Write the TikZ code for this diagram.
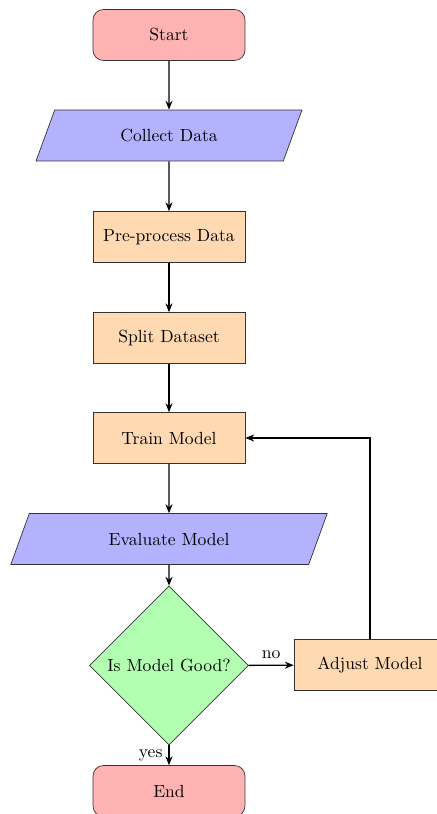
\documentclass[tikz,border=0pt]{standalone}
\usetikzlibrary{shapes.geometric,arrows.meta}
\begin{document}
\begin{tikzpicture}[x=0.02cm,y=-0.02cm,
  startstop/.style={rectangle, rounded corners=6pt, minimum width=3.04cm, minimum height=1.02cm, draw=black!80, fill=red!30},
  io/.style={trapezium, trapezium left angle=70, trapezium right angle=110, trapezium stretches=true, minimum height=1.02cm, draw=black!80, fill=blue!30},
  process/.style={rectangle, minimum width=3.04cm, minimum height=1.02cm, draw=black!80, fill=orange!30},
  decision/.style={diamond, aspect=1, minimum width=3.18cm, minimum height=3.18cm, inner sep=0pt, draw=black!80, fill=green!30},
  arrow/.style={thick, -{Stealth[length=5pt,width=4pt]}}]
\useasboundingbox (0,0) rectangle (436,814);

\node[startstop] (start) at (169,35) {Start};
\node[io, minimum width=5.34cm] (collect) at (169,135.5) {Collect Data};
\node[process] (pre) at (169,237) {Pre-process Data};
\node[process] (split) at (169,338) {Split Dataset};
\node[process] (train) at (169,438) {Train Model};
\node[io, minimum width=6.34cm] (eval) at (169,539) {Evaluate Model};
\node[decision] (dec) at (169,665.5) {Is Model Good?};
\node[process] (adjust) at (370,665) {Adjust Model};
\node[startstop] (stop) at (169,791) {End};

\draw[arrow] (start) -- (collect);
\draw[arrow] (collect) -- (pre);
\draw[arrow] (pre) -- (split);
\draw[arrow] (split) -- (train);
\draw[arrow] (train) -- (eval);
\draw[arrow] (eval) -- (dec);
\draw[arrow] (dec) -- node[above] {no} (adjust);
\draw[arrow] (dec) -- node[left] {yes} (stop);
\draw[arrow] (adjust.north) |- (train.east);
\end{tikzpicture}
\end{document}
